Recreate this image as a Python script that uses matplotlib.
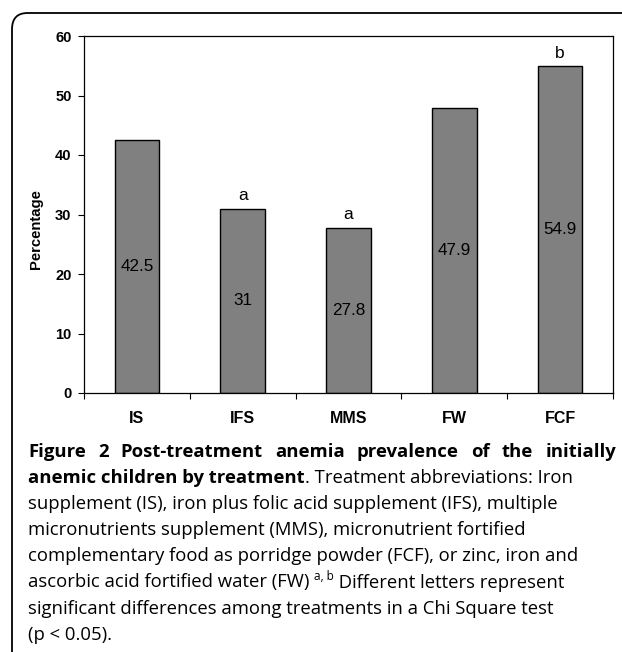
import matplotlib
matplotlib.use("Agg")
import matplotlib.pyplot as plt
from matplotlib.patches import FancyBboxPatch
from matplotlib.ticker import FixedLocator

categories = ["IS", "IFS", "MMS", "FW", "FCF"]
values = [42.5, 31, 27.8, 47.9, 54.9]
value_labels = ["42.5", "31", "27.8", "47.9", "54.9"]
letters = ["", "a", "a", "", "b"]
y_ticks = [0, 10, 20, 30, 40, 50, 60]

W, H = 622, 652
fig = plt.figure(figsize=(W / 100, H / 100), dpi=100)
fig.patch.set_facecolor("white")

def fx(px):
    return px / W

def fy(py):
    return 1 - py / H

# rounded frame (top-left corner visible)
frame = FancyBboxPatch((fx(12), fy(H + 40)), fx(W + 40 - 12), (H + 40 - 13) / H,
                       boxstyle="round,pad=0,rounding_size=0.025",
                       transform=fig.transFigure, fill=False, edgecolor="black",
                       linewidth=1.3, clip_on=False)
fig.patches.append(frame)

ax = fig.add_axes([fx(84), fy(393), fx(613 - 84), (393 - 36) / H])
x = list(range(len(categories)))
bars = ax.bar(x, values, width=0.42, color="#808080", edgecolor="black", linewidth=1.0)
ax.set_xlim(-0.5, len(categories) - 0.5)
ax.set_ylim(0, 60)
ax.set_yticks(y_ticks)
ax.set_xticks(x)
ax.set_xticklabels(categories, fontsize=11.5, fontweight="bold", family="Liberation Sans")
ax.tick_params(axis="x", which="major", length=0, pad=13)
ax.xaxis.set_minor_locator(FixedLocator([i - 0.5 for i in range(len(categories) + 1)]))
ax.tick_params(axis="x", which="minor", length=4, width=0.8, direction="out")
ax.tick_params(axis="y", length=4, width=0.8, pad=5, labelsize=10.5)
for lab in ax.get_yticklabels():
    lab.set_fontweight("bold")
    lab.set_family("Liberation Sans")
for s in ax.spines.values():
    s.set_linewidth(0.9)
ax.set_ylabel("Percentage", fontsize=10.7, fontweight="bold", family="Liberation Sans")
ax.yaxis.set_label_coords(-0.077, 0.46)

for b, v, lab, let in zip(bars, values, value_labels, letters):
    cx = b.get_x() + b.get_width() / 2
    ax.text(cx, v / 2, lab, ha="center", va="center", fontsize=12.3, family="Liberation Sans")
    if let:
        ax.annotate(let, (cx, v), xytext=(0, 9.5), textcoords="offset points",
                    ha="center", va="center", fontsize=12.5, family="Liberation Sans")

# caption
fs = 13.3
fam = "Open Sans"
renderer = fig.canvas.get_renderer()

def draw_segments(y_px, segments, x0=28):
    xx = x0
    for txt, wt, sz, dy in segments:
        t = fig.text(fx(xx), fy(y_px + dy), txt, fontsize=sz, fontweight=wt, family=fam,
                     ha="left", va="center")
        bb = t.get_window_extent(renderer=renderer)
        xx += bb.width
    return xx

line_h = 26.1
y0 = 452
# line 1 justified word by word
words1 = ["Figure", "2", "Post-treatment", "anemia", "prevalence", "of", "the", "initially"]
wids = []
for w in words1:
    t = fig.text(0, 0, w, fontsize=fs, fontweight="bold", family=fam)
    wids.append(t.get_window_extent(renderer=renderer).width)
    t.remove()
left, right = 28, 616
gap = (right - left - sum(wids)) / (len(words1) - 1)
xx = left
for w, wd in zip(words1, wids):
    fig.text(fx(xx), fy(y0), w, fontsize=fs, fontweight="bold", family=fam, ha="left", va="center")
    xx += wd + gap

draw_segments(y0 + line_h, [("anemic children by treatment", "bold", fs, 0),
                            (". Treatment abbreviations: Iron", "normal", fs, 0)])
lines = [
    "supplement (IS), iron plus folic acid supplement (IFS), multiple",
    "micronutrients supplement (MMS), micronutrient fortified",
    "complementary food as porridge powder (FCF), or zinc, iron and",
]
for i, ln in enumerate(lines):
    fig.text(fx(28), fy(y0 + line_h * (2 + i)), ln, fontsize=fs, family=fam, ha="left", va="center")
draw_segments(y0 + line_h * 5, [("ascorbic acid fortified water (FW) ", "normal", fs, 0),
                                ("a, b", "normal", 8.5, -6),
                                (" Different letters represent", "normal", fs, 0)])
fig.text(fx(28), fy(y0 + line_h * 6), "significant differences among treatments in a Chi Square test",
         fontsize=fs, family=fam, ha="left", va="center")
fig.text(fx(28), fy(y0 + line_h * 7), "(p < 0.05).", fontsize=fs, family=fam, ha="left", va="center")

fig.savefig("out.png", dpi=100)
